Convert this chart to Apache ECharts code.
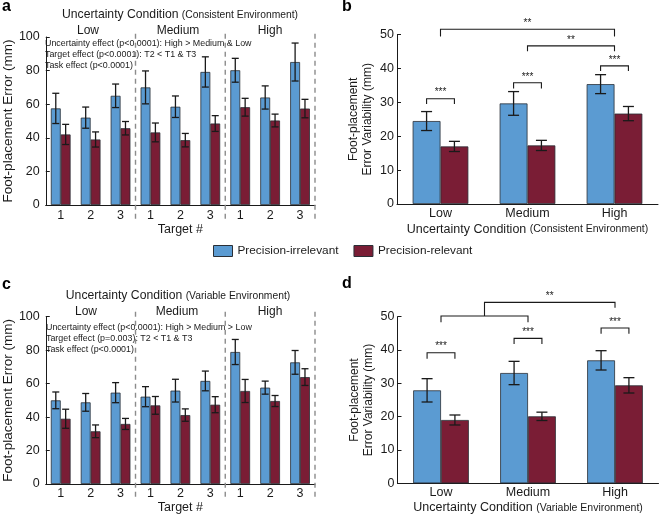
<!DOCTYPE html>
<html><head><meta charset="utf-8">
<script src="https://cdn.jsdelivr.net/npm/echarts@6/dist/echarts.min.js"></script>
<style>html,body{margin:0;padding:0;background:#fff}#c{width:659px;height:516px}</style>
</head><body><div id="c"></div>
<script>
// ---------- data ----------
const targets = ['1','2','3','1','2','3','1','2','3'];
const conditions = ['Low','Medium','High'];
const seriesNames = ['Precision-irrelevant','Precision-relevant'];
const groupLastIndex = [2, 5, 8]; // dashed separators drawn after these categories

// panel a (consistent environment) foot-placement error
const aIrr    = [57.5, 52.0, 65.0, 70.0, 58.5, 79.2, 80.2, 64.0, 85.1];
const aIrrErr = [9.0, 6.3, 7.0, 9.8, 6.4, 9.0, 7.1, 6.9, 11.3];
const aRel    = [42.0, 39.0, 45.7, 43.2, 38.6, 48.5, 58.2, 50.3, 57.4];
const aRelErr = [6.0, 4.5, 4.0, 5.6, 4.0, 4.7, 5.3, 3.8, 5.5];
// panel c (variable environment) foot-placement error
const cIrr    = [50.0, 48.8, 54.6, 52.2, 55.8, 61.6, 78.9, 57.6, 72.7];
const cIrrErr = [5.0, 5.3, 6.0, 6.0, 6.8, 5.9, 7.5, 3.9, 7.1];
const cRel    = [39.0, 31.5, 35.9, 47.0, 41.2, 47.4, 55.6, 49.6, 63.9];
const cRelErr = [5.7, 3.8, 3.3, 5.3, 3.7, 4.8, 6.9, 3.3, 5.0];
// panel b (consistent) variability
const bIrr    = [24.5, 29.7, 35.4];
const bIrrErr = [2.8, 3.5, 2.8];
const bRel    = [17.0, 17.3, 26.7];
const bRelErr = [1.5, 1.5, 2.1];
// panel d (variable) variability
const dIrr    = [27.9, 33.1, 36.9];
const dIrrErr = [3.5, 3.5, 2.9];
const dRel    = [19.0, 20.1, 29.4];
const dRelErr = [1.5, 1.25, 2.3];

const errorTicks = [0, 20, 40, 60, 80, 100];
const variabilityTicks = [0, 10, 20, 30, 40, 50];

const annotationsA = ['Uncertainty effect (p<0.0001): High > Medium & Low', 'Target effect (p<0.0001): T2 < T1 & T3', 'Task effect (p<0.0001)'];
const annotationsC = ['Uncertainty effect (p<0.0001): High > Medium > Low', 'Target effect (p=0.003): T2 < T1 & T3', 'Task effect (p<0.0001)'];

// brackets: from/to = [category, 'irr'|'rel'|'mid'], y = horizontal line, yl/yr = end of left/right legs
const bracketsB = [
  {from:[0,'irr'], to:[0,'rel'], y:31.1, yl:29.5, yr:29.5, label:'***'},
  {from:[1,'irr'], to:[1,'rel'], y:35.8, yl:34.1, yr:34.1, label:'***'},
  {from:[2,'irr'], to:[2,'rel'], y:40.8, yl:39.3, yr:39.3, label:'***'},
  {from:[1,'mid'], to:[2,'mid'], y:46.7, yl:45.1, yr:45.1, label:'**'},
  {from:[0,'mid'], to:[2,'mid'], y:51.6, yl:49.5, yr:49.5, label:'**'}
];
const bracketsD = [
  {from:[0,'irr'], to:[0,'rel'], y:39.2, yl:37.4, yr:37.4, label:'***'},
  {from:[1,'irr'], to:[1,'rel'], y:43.5, yl:41.8, yr:41.8, label:'***'},
  {from:[2,'irr'], to:[2,'rel'], y:46.6, yl:44.9, yr:44.9, label:'***'},
  {from:[0,'mid'], to:[1,'mid'], y:50.2, yl:48.3, yr:48.3, label:''},
  {from:[0.5,'mid'], to:[2,'mid'], y:54.3, yl:50.2, yr:52.7, label:'**'}
];

// ---------- style ----------
const FONT = 'Liberation Sans, Arial, sans-serif';
const BLUE = '#5b9bd2';
const RED = '#7a1d35';
const INK = '#1a1a1a';
const FRAC_AC = 0.33, FRAC_BD = 0.32;

const chart = echarts.init(document.getElementById('c'));

function sideSign(s){ return s === 'irr' ? -1 : (s === 'rel' ? 1 : 0); }

function errSeries(gi, vals, errs, side, frac, cap){
  return {
    type:'custom', xAxisIndex:gi, yAxisIndex:gi, silent:true, z:5,
    data: vals.map((v,i)=>[i, v, errs[i]]),
    renderItem:(params, api)=>{
      const i = api.value(0), v = api.value(1), e = api.value(2);
      const band = api.size([1,0])[0];
      const cx = api.coord([i, v])[0] + side*band*frac/2;
      const yt = api.coord([i, v+e])[1], yb = api.coord([i, v-e])[1];
      const hw = cap/2, st = {stroke:INK, lineWidth:1.3};
      return {type:'group', children:[
        {type:'line', shape:{x1:cx,y1:yt,x2:cx,y2:yb}, style:st},
        {type:'line', shape:{x1:cx-hw,y1:yt,x2:cx+hw,y2:yt}, style:st},
        {type:'line', shape:{x1:cx-hw,y1:yb,x2:cx+hw,y2:yb}, style:st}
      ]};
    }
  };
}

function bracketSeries(gi, brackets, frac){
  return {
    type:'custom', xAxisIndex:gi, yAxisIndex:gi, silent:true, z:6,
    data: brackets.map(b=>[Math.floor(b.from[0]), b.y]),
    renderItem:(params, api)=>{
      const b = brackets[params.dataIndex];
      const band = api.size([1,0])[0];
      const x0 = api.coord([0, 0])[0];
      const xp = (p)=> x0 + p[0]*band + sideSign(p[1])*band*frac/2;
      const x1 = xp(b.from), x2 = xp(b.to);
      const y = api.coord([0, b.y])[1], yl = api.coord([0, b.yl])[1], yr = api.coord([0, b.yr])[1];
      const st = {stroke:INK, lineWidth:1.1, fill:null};
      const children = [
        {type:'polyline', shape:{points:[[x1,yl],[x1,y],[x2,y],[x2,yr]]}, style:st}
      ];
      if (b.label) children.push({type:'text', style:{text:b.label, x:(x1+x2)/2, y:y-1, align:'center', verticalAlign:'bottom', font:'10px '+FONT, fill:INK}});
      return {type:'group', children};
    }
  };
}

function dashSeries(gi, top, bottom){
  return {
    type:'custom', xAxisIndex:gi, yAxisIndex:gi, silent:true, z:1,
    data: groupLastIndex.map(i=>[i, 0]),
    renderItem:(params, api)=>{
      const band = api.size([1,0])[0];
      const x = api.coord([api.value(0), 0])[0] + band/2;
      return {type:'line', shape:{x1:x, y1:api.coord([0,top])[1], x2:x, y2:api.coord([0,bottom])[1]},
        style:{stroke:'#8c8c8c', lineWidth:1.4, lineDash:[5,4]}};
    }
  };
}

function barSeries(gi, name, vals, color, frac){
  return {
    type:'bar', name, xAxisIndex:gi, yAxisIndex:gi, data: vals,
    barWidth: (frac*100)+'%', barGap:'0%',
    itemStyle:{color, borderColor:'#2a2f36', borderWidth:0.8}
  };
}

const richX = {m:{fontSize:12.5, fontFamily:FONT, color:INK}, s:{fontSize:10.5, fontFamily:FONT, color:INK}};

function xAxisCat(gi, cats, name, nameGap, margin){
  return {
    type:'category', gridIndex:gi, data:cats,
    axisLine:{lineStyle:{color:INK, width:1}}, axisTick:{show:false},
    axisLabel:{color:INK, fontSize:12.5, fontFamily:FONT, margin},
    name, nameLocation:'middle', nameGap,
    nameTextStyle:{color:INK, fontSize:12.5, fontFamily:FONT, rich:richX}
  };
}
function yAxisVal(gi, ticks, name, nameGap, nameSize, margin){
  return {
    type:'value', gridIndex:gi, min:ticks[0], max:ticks[ticks.length-1], interval:ticks[1]-ticks[0],
    axisLine:{show:true, lineStyle:{color:INK, width:1}},
    axisTick:{show:true, inside:true, length:4, lineStyle:{color:INK}},
    splitLine:{show:false},
    axisLabel:{color:INK, fontSize:12.5, fontFamily:FONT, margin},
    name, nameLocation:'middle', nameGap, nameRotate:90,
    nameTextStyle:{color:INK, fontSize:nameSize, fontFamily:FONT, lineHeight:14}
  };
}

function textEl(text, x, y, size){
  return {type:'text', x, y, silent:true,
    style:{text, font:size+'px '+FONT, fill:INK, align:'left', verticalAlign:'middle'}};
}
function richTitle(main, paren, x, y){
  return {type:'text', x, y, silent:true, style:{
    text:'{m|'+main+'} {s|'+paren+'}', align:'center', verticalAlign:'middle',
    rich:{m:{fontSize:12.2, fontFamily:FONT, fill:INK}, s:{fontSize:10.3, fontFamily:FONT, fill:INK}}}};
}
function centered(text, x, y, size){
  return {type:'text', x, y, silent:true, style:{text, font:size+'px '+FONT, fill:INK, align:'center', verticalAlign:'middle'}};
}

const graphics = [
  {type:'text', x:2, y:-1, style:{text:'a', font:'bold 16px '+FONT, fill:'#000'}},
  {type:'text', x:342, y:-1, style:{text:'b', font:'bold 16px '+FONT, fill:'#000'}},
  {type:'text', x:2, y:277, style:{text:'c', font:'bold 16px '+FONT, fill:'#000'}},
  {type:'text', x:342, y:276, style:{text:'d', font:'bold 16px '+FONT, fill:'#000'}},
  richTitle('Uncertainty Condition', '(Consistent Environment)', 180, 15),
  richTitle('Uncertainty Condition', '(Variable Environment)', 178, 296),
  centered(conditions[0], 88, 31, 12), centered(conditions[1], 178, 31, 12), centered(conditions[2], 270, 31, 12),
  centered(conditions[0], 86, 312, 12), centered(conditions[1], 177, 312, 12), centered(conditions[2], 270, 312, 12)
];
annotationsA.forEach((t,k)=>graphics.push(textEl(t, 45, 44 + k*11, 8.9)));
annotationsC.forEach((t,k)=>graphics.push(textEl(t, 46, 328 + k*10.7, 8.9)));

const option = {
  animation:false,
  textStyle:{fontFamily:FONT},
  grid:[
    {left:39.5, top:37, width:275.5, height:168},
    {left:397, top:34.7, width:261, height:169.3},
    {left:39.5, top:316.7, width:275.5, height:167.3},
    {left:397.5, top:316.7, width:261, height:166.6}
  ],
  xAxis:[
    xAxisCat(0, targets, 'Target #', 18, 4),
    xAxisCat(1, conditions, '{m|Uncertainty Condition} {s|(Consistent Environment)}', 19, 3),
    xAxisCat(2, targets, 'Target #', 17, 3),
    xAxisCat(3, conditions, '{m|Uncertainty Condition} {s|(Variable Environment)}', 18, 3)
  ],
  yAxis:[
    yAxisVal(0, errorTicks, 'Foot-placement Error (mm)', 24, 13.5, 6),
    yAxisVal(1, variabilityTicks, 'Foot-placement\nError Variability (mm)', 22, 12, 3),
    yAxisVal(2, errorTicks, 'Foot-placement Error (mm)', 24, 13.5, 6),
    yAxisVal(3, variabilityTicks, 'Foot-placement\nError Variability (mm)', 22, 12, 3)
  ],
  legend:{
    data:seriesNames, left:213, top:245, padding:0, itemWidth:19, itemHeight:11, itemGap:15,
    icon:'rect', selectedMode:false,
    itemStyle:{borderColor:'#2a2f36', borderWidth:1},
    textStyle:{color:INK, fontSize:11.8, fontFamily:FONT}
  },
  graphic: graphics,
  series:[
    dashSeries(0, 102, -9), dashSeries(2, 103, -9.5),
    barSeries(0, seriesNames[0], aIrr, BLUE, FRAC_AC), barSeries(0, seriesNames[1], aRel, RED, FRAC_AC),
    barSeries(1, seriesNames[0], bIrr, BLUE, FRAC_BD), barSeries(1, seriesNames[1], bRel, RED, FRAC_BD),
    barSeries(2, seriesNames[0], cIrr, BLUE, FRAC_AC), barSeries(2, seriesNames[1], cRel, RED, FRAC_AC),
    barSeries(3, seriesNames[0], dIrr, BLUE, FRAC_BD), barSeries(3, seriesNames[1], dRel, RED, FRAC_BD),
    errSeries(0, aIrr, aIrrErr, -1, FRAC_AC, 7), errSeries(0, aRel, aRelErr, 1, FRAC_AC, 7),
    errSeries(1, bIrr, bIrrErr, -1, FRAC_BD, 11), errSeries(1, bRel, bRelErr, 1, FRAC_BD, 11),
    errSeries(2, cIrr, cIrrErr, -1, FRAC_AC, 7), errSeries(2, cRel, cRelErr, 1, FRAC_AC, 7),
    errSeries(3, dIrr, dIrrErr, -1, FRAC_BD, 11), errSeries(3, dRel, dRelErr, 1, FRAC_BD, 11),
    bracketSeries(1, bracketsB, FRAC_BD), bracketSeries(3, bracketsD, FRAC_BD)
  ]
};
chart.setOption(option);
</script></body></html>
